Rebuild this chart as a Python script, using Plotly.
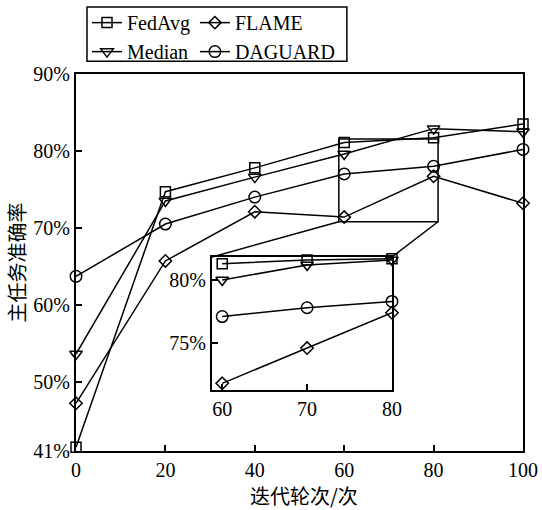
import plotly.graph_objects as go

# ---------------- data ----------------
rounds = [0, 20, 40, 60, 80, 100]
fedavg = [41.5, 74.7, 77.8, 81.1, 81.7, 83.5]
flame = [47.2, 65.7, 72.1, 71.4, 76.7, 73.2]
median = [53.6, 73.5, 76.6, 79.6, 82.9, 82.5]
daguard = [63.7, 70.5, 74.0, 77.0, 78.0, 80.2]

zoom_rounds = [60, 70, 80]
fedavg_zoom = [81.3, 81.6, 81.7]
flame_zoom = [71.8, 74.6, 77.4]
median_zoom = [80.0, 81.2, 81.6]
daguard_zoom = [77.1, 77.8, 78.3]

x_ticks = [0, 20, 40, 60, 80, 100]
y_ticks = [41, 50, 60, 70, 80, 90]
y_tick_labels = ["41%", "50%", "60%", "70%", "80%", "90%"]
zoom_x_ticks = [60, 70, 80]
zoom_y_ticks = [75, 80]
zoom_y_tick_labels = ["75%", "80%"]

series_names = ["FedAvg", "FLAME", "Median", "DAGUARD"]

# ---------------- styles ----------------
NUM_FONT = "Liberation Serif, Times New Roman, serif"
CJK_FONT = "Noto Sans CJK SC"
symbols = {"FedAvg": "square-open", "FLAME": "diamond-open",
           "Median": "triangle-down-open", "DAGUARD": "circle-open"}
sizes = {"FedAvg": 10, "FLAME": 9.5, "Median": 11, "DAGUARD": 11.5}
legend_of = {"FedAvg": "legend", "Median": "legend", "FLAME": "legend2", "DAGUARD": "legend2"}

main_vals = {"FedAvg": fedavg, "FLAME": flame, "Median": median, "DAGUARD": daguard}
zoom_vals = {"FedAvg": fedavg_zoom, "FLAME": flame_zoom, "Median": median_zoom, "DAGUARD": daguard_zoom}

fig = go.Figure()
for name in ["FedAvg", "Median", "FLAME", "DAGUARD"]:
    fig.add_trace(go.Scatter(
        x=rounds, y=main_vals[name], name=name, mode="lines+markers",
        line=dict(color="black", width=1.5),
        marker=dict(symbol=symbols[name], size=sizes[name], color="black",
                    line=dict(width=1.5, color="black")),
        cliponaxis=False, legend=legend_of[name], xaxis="x", yaxis="y"))
for name in ["FedAvg", "Median", "FLAME", "DAGUARD"]:
    fig.add_trace(go.Scatter(
        x=zoom_rounds, y=zoom_vals[name], name=name, mode="lines+markers",
        line=dict(color="black", width=1.5),
        marker=dict(symbol=symbols[name], size=sizes[name], color="black",
                    line=dict(width=1.5, color="black")),
        cliponaxis=False, showlegend=False, xaxis="x2", yaxis="y2"))

# main axes ranges
X0, X1 = 0, 100
Y0, Y1 = 41, 90
# inset
ins_xd = [0.3043, 0.7069]
ins_yd = [0.1618, 0.5146]
ins_xr = [58.8, 80]
ins_yr = [71.27, 81.83]
# zoom box in main data coords
box_x = [58.8, 81.0]
box_y = [70.8, 81.55]


def px_(v):
    return (v - X0) / (X1 - X0)


def py_(v):
    return (v - Y0) / (Y1 - Y0)


axis_common = dict(showline=True, linewidth=2, linecolor="black", mirror=True,
                   ticks="inside", ticklen=6, tickwidth=1.5, tickcolor="black",
                   showgrid=False, zeroline=False,
                   tickfont=dict(family=NUM_FONT, size=20, color="black"))

fig.update_layout(
    width=542, height=510,
    margin=dict(l=76, r=19, t=74, b=59, autoexpand=False),
    paper_bgcolor="white", plot_bgcolor="white",
    xaxis=dict(domain=[0, 1], range=[X0, X1], tickvals=x_ticks, **axis_common),
    yaxis=dict(domain=[0, 1], range=[Y0, Y1], tickvals=y_ticks, ticktext=y_tick_labels, **axis_common),
    xaxis2=dict(domain=ins_xd, range=ins_xr, tickvals=zoom_x_ticks, anchor="y2", **axis_common),
    yaxis2=dict(domain=ins_yd, range=ins_yr, tickvals=zoom_y_ticks, ticktext=zoom_y_tick_labels,
                anchor="x2", **axis_common),
    legend=dict(x=0.0246, y=1.188, xanchor="left", yanchor="top", orientation="v",
                bgcolor="rgba(0,0,0,0)", borderwidth=0, tracegroupgap=0,
                font=dict(family=NUM_FONT, size=20, color="black")),
    legend2=dict(x=0.266, y=1.188, xanchor="left", yanchor="top", orientation="v",
                 bgcolor="rgba(0,0,0,0)", borderwidth=0, tracegroupgap=0,
                 font=dict(family=NUM_FONT, size=20, color="black")),
    showlegend=True,
)

shapes = [
    # zoom box
    dict(type="rect", xref="x", yref="y", x0=box_x[0], x1=box_x[1], y0=box_y[0], y1=box_y[1],
         line=dict(color="black", width=1.5)),
    # connectors
    dict(type="line", xref="paper", yref="paper", x0=px_(box_x[0]), y0=py_(box_y[0]),
         x1=ins_xd[0], y1=ins_yd[1], line=dict(color="black", width=1.5)),
    dict(type="line", xref="paper", yref="paper", x0=px_(box_x[1]), y0=py_(box_y[0]),
         x1=ins_xd[1], y1=ins_yd[1], line=dict(color="black", width=1.5)),
    # legend frame
    dict(type="rect", xref="paper", yref="paper", x0=0.0246, x1=0.606, y0=1.034, y1=1.178,
         line=dict(color="black", width=1.5)),
]
fig.update_layout(shapes=shapes)

fig.add_annotation(text="迭代轮次/次", xref="paper", yref="paper", x=0.509, y=-0.117,
                   xanchor="center", yanchor="middle", showarrow=False,
                   font=dict(family=CJK_FONT, size=20, color="black"))
fig.add_annotation(text="主任务准确率", xref="paper", yref="paper", x=-0.132, y=0.5,
                   xanchor="center", yanchor="middle", textangle=-90, showarrow=False,
                   font=dict(family=CJK_FONT, size=20, color="black"))

fig.write_html("out.html")
